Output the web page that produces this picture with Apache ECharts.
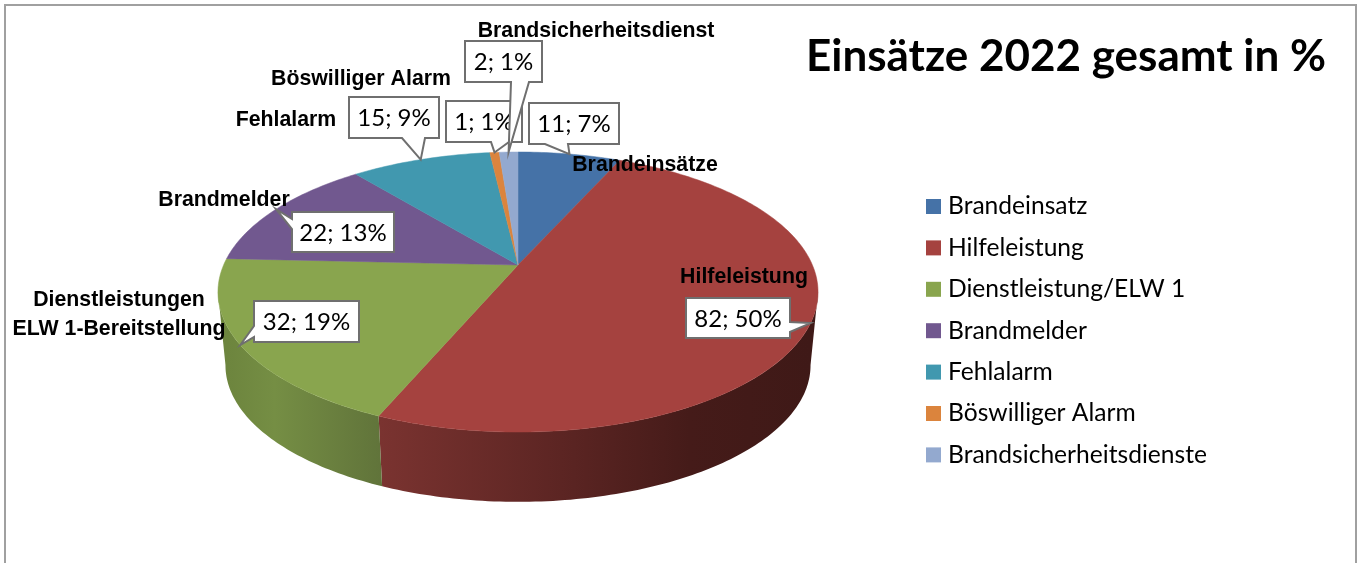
<!DOCTYPE html>
<html>
<head>
<meta charset="utf-8">
<title>Einsätze 2022</title>
<script src="https://cdn.jsdelivr.net/npm/echarts@6/dist/echarts.min.js"></script>
<style>
  html, body { margin: 0; padding: 0; background: #fff; }
  #chart { width: 1359px; height: 563px; }
</style>
</head>
<body>
<div id="chart"></div>
<script>
// chart data
const categories = ['Brandeinsatz', 'Hilfeleistung', 'Dienstleistung/ELW 1', 'Brandmelder', 'Fehlalarm', 'Böswilliger Alarm', 'Brandsicherheitsdienste'];
const sliceValues = [11, 82, 32, 22, 15, 1, 2];
const outerLabels = ['Brandeinsätze', 'Hilfeleistung', 'Dienstleistungen\nELW 1-Bereitstellung', 'Brandmelder', 'Fehlalarm', 'Böswilliger Alarm', 'Brandsicherheitsdienst'];
const titleText = 'Einsätze 2022 gesamt in %';

// look of the chart
const sliceColors = ['#4572A7', '#A5423F', '#89A54E', '#71588F', '#4198AF', '#DB843D', '#93A9CF'];
const wallStops = {
  1: [[380, 810], [[0, '#7a3330'], [0.45, '#5a2422'], [0.72, '#451b19'], [1, '#3f1917']]],
  2: [[228, 384], [[0, '#6d853e'], [0.3, '#758e44'], [1, '#60733a']]]
};
// label box: x, y, w, h, side of the wedge, wedge base from, wedge base to
const calloutBoxes = [
  [529, 103, 90, 41, 'bottom', 545, 568],
  [686, 298, 104, 40, 'right', 322, 332],
  [254, 301, 105, 41, 'left', 326, 337],
  [292, 212, 102, 40, 'left', 219, 229],
  [349, 97, 90, 41, 'bottom', 402, 425],
  [446, 101, 76, 41, 'bottom', 491, 509],
  [465, 41, 77, 41, 'bottom', 511, 529]
];
const labelAnchors = [[645, 165], [744, 277], [119, 315], [224, 200], [286, 120], [361, 79], [596, 31]];

// projection of the tilted disc, angles run clockwise from the top
const apexX = 518, apexY = 265, tilt = 0.193, radX = 294.4, radY = 134.8;
const wallScale = 0.975, wallDrop = 74;
const wallFrom = 101 * Math.PI / 180, wallTo = 259 * Math.PI / 180;
const fullAngle = Math.PI * 2;
const total = sliceValues.reduce((s, v) => s + v, 0);

function rim(a, s, dy) {
  const d = 1 + tilt * Math.cos(a);
  return [apexX + s * radX * Math.sin(a) / d, apexY + dy - s * radY * Math.cos(a) / d];
}
function arc(a0, a1, s, dy) {
  const n = Math.max(2, Math.ceil(Math.abs(a1 - a0) * 60));
  const pts = [];
  for (let i = 0; i <= n; i++) pts.push(rim(a0 + (a1 - a0) * i / n, s, dy));
  return pts;
}
function calloutPoints(box, tip) {
  const [x, y, w, h, side, b0, b1] = box;
  const pts = [[x, y], [x + w, y]];
  if (side === 'right') pts.push([x + w, b0], tip, [x + w, b1]);
  pts.push([x + w, y + h]);
  if (side === 'bottom') pts.push([b1, y + h], tip, [b0, y + h]);
  pts.push([x, y + h]);
  if (side === 'left') pts.push([x, b1], tip, [x, b0]);
  return pts;
}

function sliceSeries(i) {
  const before = sliceValues.slice(0, i).reduce((s, v) => s + v, 0);
  const a0 = before / total * fullAngle;
  const a1 = (before + sliceValues[i]) / total * fullAngle;
  return {
    type: 'custom',
    name: categories[i],
    coordinateSystem: 'none',
    silent: true,
    itemStyle: { color: sliceColors[i] },
    data: [sliceValues[i]],
    renderItem: function () {
      const kids = [];
      const color = sliceColors[i];
      // side wall, only on the front of the disc
      const w0 = Math.max(a0, wallFrom), w1 = Math.min(a1, wallTo);
      if (w1 > w0) {
        const stops = wallStops[i];
        const fill = new echarts.graphic.LinearGradient(stops[0][0], 0, stops[0][1], 0,
          stops[1].map(s => ({ offset: s[0], color: s[1] })), true);
        kids.push({
          type: 'polygon', z2: 1,
          shape: { points: arc(w0, w1, 1, 0).concat(arc(w1, w0, wallScale, wallDrop)) },
          style: { fill: fill }
        });
      }
      // top face
      kids.push({
        type: 'polygon', z2: 2,
        shape: { points: [[apexX, apexY]].concat(arc(a0, a1, 1, 0)) },
        style: { fill: color, stroke: color, lineWidth: 0.5 }
      });
      // callout, the tip sits on the rim at the middle of the slice
      const box = calloutBoxes[i];
      const pct = Math.round(sliceValues[i] / total * 100);
      kids.push({
        type: 'polygon', z2: 10 + i,
        shape: { points: calloutPoints(box, rim((a0 + a1) / 2, 1, 0)) },
        style: { fill: '#fff', stroke: '#6f6f6f', lineWidth: 2, lineJoin: 'miter' }
      });
      kids.push({
        type: 'text', z2: 10 + i,
        style: {
          x: box[0] + box[2] / 2, y: box[1] + box[3] / 2 + 1,
          text: sliceValues[i] + '; ' + pct + '%',
          fill: '#000', fontFamily: 'Lato', fontSize: 24, align: 'center', verticalAlign: 'middle'
        }
      });
      kids.push({
        type: 'text', z2: 30,
        style: {
          x: labelAnchors[i][0], y: labelAnchors[i][1],
          text: outerLabels[i],
          fill: '#000', fontFamily: 'Liberation Sans', fontWeight: 'bold', fontSize: 21.3,
          lineHeight: 29, align: 'center', verticalAlign: 'middle'
        }
      });
      return { type: 'group', children: kids };
    }
  };
}

const myChart = echarts.init(document.getElementById('chart'));
myChart.setOption({
  animation: false,
  title: {
    text: titleText, left: 801, top: 30,
    textStyle: { fontFamily: 'Lato', fontWeight: 'bold', fontSize: 44, color: '#000' }
  },
  legend: {
    data: categories,
    orient: 'vertical', left: 921, top: 189,
    icon: 'rect', itemWidth: 15, itemHeight: 15, itemGap: 16.4,
    selectedMode: false,
    textStyle: { fontFamily: 'Lato', fontSize: 24.6, color: '#000', padding: [0, 0, 0, 2] }
  },
  graphic: [{
    type: 'rect', silent: true, z: 0,
    shape: { x: 5, y: 5, width: 1351, height: 600 },
    style: { fill: 'none', stroke: '#a0a0a0', lineWidth: 2 }
  }],
  series: categories.map((c, i) => sliceSeries(i))
});
</script>
</body>
</html>
